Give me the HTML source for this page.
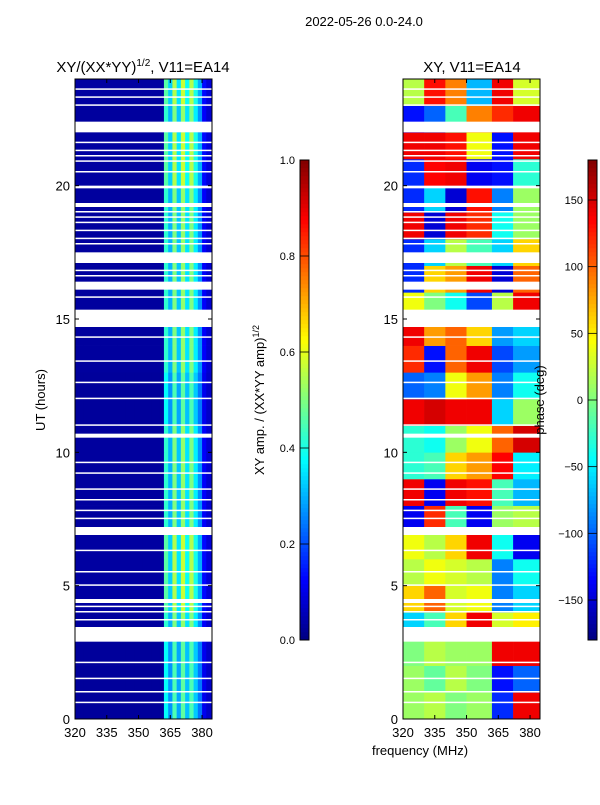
<!DOCTYPE html>
<html><head><meta charset="utf-8"><style>
body{margin:0;background:#fff;width:600px;height:800px;overflow:hidden}
svg{font-family:"Liberation Sans","DejaVu Sans",sans-serif}
</style></head><body>
<svg id="fig" width="600" height="800" xmlns="http://www.w3.org/2000/svg">
<text x="364" y="26" font-size="13" text-anchor="middle">2022-05-26 0.0-24.0</text>
<text x="143" y="72" font-size="15" text-anchor="middle">XY/(XX*YY)<tspan font-size="10" dy="-6">1/2</tspan><tspan dy="6">, V11=EA14</tspan></text>
<text x="472" y="72" font-size="15" text-anchor="middle">XY, V11=EA14</text>
<g id="left"></g>
<g id="right"></g>
<g id="axes"></g>
<text x="420" y="755" font-size="13" text-anchor="middle">frequency (MHz)</text>
<text transform="translate(45,400) rotate(-90)" font-size="13" text-anchor="middle">UT (hours)</text>
<text transform="translate(264,400) rotate(-90)" font-size="13" text-anchor="middle">XY amp. / (XX*YY amp)<tspan font-size="9" dy="-5">1/2</tspan></text>
<text transform="translate(544,400) rotate(-90)" font-size="13" text-anchor="middle">phase (deg)</text>
</svg>
<script>
// ---- data ----
const hours=[0,1,2,3,4,5,6,7,8,9,10,11,12,13,14,15,16,17,18,19,20,21,22,23];
const ampFreqs=[320,324,328,332,336,340,344,348,352,356,360,362,364,366,368,370,372,374,376,378,380,382];
const ampProfile=[0.03,0.03,0.03,0.03,0.03,0.03,0.03,0.03,0.03,0.03,0.03,0.42,0.3,0.5,0.32,0.52,0.35,0.5,0.36,0.27,0.12,0.08];
const ampRowScale=[0.9,0.9,0.9,1.0,1.1,1.1,1.1,1.0,1.0,1.0,1.0,0.9,0.9,1.0,1.0,1.0,1.0,1.0,1.0,1.0,1.1,1.1,1.0,1.1];
const phaseFreqs=[320,330,340,350,362,372];
const phase=[
[10,20,0,10,-120,140],[10,-10,20,0,-130,-100],[0,20,10,10,140,140],[-60,-20,60,140,30,50],
[60,100,30,40,-90,-60],[20,40,30,20,-90,-40],[40,20,60,140,-40,-140],[-140,120,-20,-140,10,20],
[140,-140,140,130,-20,-70],[-30,-20,60,80,135,-50],[-30,-40,10,40,100,150],[140,150,140,140,-60,10],
[-100,-90,40,80,-90,-40],[120,-130,100,140,-110,-80],[140,80,100,60,-80,-60],[40,0,-40,-110,20,140],
[-120,60,80,140,-150,100],[-120,-60,20,-20,-60,60],[140,-150,140,120,-40,10],[-120,-60,-150,130,-90,10],
[-120,135,140,-140,-130,-30],[140,140,130,40,-130,140],[-130,-100,-20,90,120,140],[20,130,90,-70,140,30]];
const gapStart=[22.0,19.9,19.2,17.1,16.1,14.7,10.55,6.9,4.35,2.9,23.3,21.3,20.9,18.6,18.0,13.4,12.0,9.6,8.6,7.8,5.5,4.0,2.1,1.5,
 23.6,23.0,21.6,21.1,20.5,19.0,18.8,18.3,17.8,16.8,16.6,15.8,14.3,12.6,11.0,9.2,8.2,7.5,6.3,5.0,4.2,3.7,1.0,0.6];
const gapEnd=[22.4,20.0,19.35,17.5,16.4,15.35,10.7,7.2,4.5,3.45,23.35,21.35,20.95,18.65,18.05,13.45,12.05,9.65,8.65,7.85,5.55,4.05,2.15,1.55,
 23.65,23.05,21.65,21.15,20.55,19.05,18.85,18.35,17.85,16.85,16.65,15.85,14.35,12.65,11.05,9.25,8.25,7.55,6.35,5.05,4.25,3.75,1.05,0.65];
const xTicks=[320,335,350,365,380];
const yTicks=[0,5,10,15,20];
const ampTicks=[0.0,0.2,0.4,0.6,0.8,1.0];
const phaseTicks=[-150,-100,-50,0,50,100,150];
// ---- scales ----
const NS="http://www.w3.org/2000/svg";
const T0=79,B0=719,F0=320,F1=384.7;
const yS=h=>B0-(h/24)*(B0-T0);
const xL=f=>75+(f-F0)/(F1-F0)*137;
const xR=f=>403+(f-F0)/(F1-F0)*137;
function jet(v){v=Math.max(0,Math.min(1,v));
 const r=Math.max(0,Math.min(1,1.5-Math.abs(4*v-3))),g=Math.max(0,Math.min(1,1.5-Math.abs(4*v-2))),b=Math.max(0,Math.min(1,1.5-Math.abs(4*v-1)));
 return `rgb(${Math.round(r*255)},${Math.round(g*255)},${Math.round(b*255)})`;}
function rect(p,x,y,w,h,fill){const r=document.createElementNS(NS,'rect');r.setAttribute('x',x);r.setAttribute('y',y);r.setAttribute('width',w);r.setAttribute('height',h);r.setAttribute('fill',fill);p.appendChild(r);return r;}
function txt(p,x,y,s,anchor){const t=document.createElementNS(NS,'text');t.setAttribute('x',x);t.setAttribute('y',y);t.setAttribute('font-size','13');t.setAttribute('text-anchor',anchor);t.textContent=s;p.appendChild(t);return t;}
function line(p,x1,y1,x2,y2,c,w){const l=document.createElementNS(NS,'line');l.setAttribute('x1',x1);l.setAttribute('y1',y1);l.setAttribute('x2',x2);l.setAttribute('y2',y2);l.setAttribute('stroke',c||'#000');l.setAttribute('stroke-width',w||1);p.appendChild(l);return l;}
const L=document.getElementById('left'),R=document.getElementById('right'),A=document.getElementById('axes');
hours.forEach((h,i)=>{ampFreqs.forEach((f,j)=>{
 const f2=j+1<ampFreqs.length?ampFreqs[j+1]:F1;
 const c=rect(L,xL(f),yS(h+1),xL(f2)-xL(f)+0.3,yS(h)-yS(h+1)+0.3,jet(ampProfile[j]*ampRowScale[i]));
 
 
});});
hours.forEach((h,i)=>{phaseFreqs.forEach((f,j)=>{
 const f2=j+1<phaseFreqs.length?phaseFreqs[j+1]:F1;
 const c=rect(R,xR(f),yS(h+1),xR(f2)-xR(f)+0.3,yS(h)-yS(h+1)+0.3,jet((phase[i][j]+180)/360));
 
 
});});
gapStart.forEach((g,i)=>{[[L,xL],[R,xR]].forEach(([p,xs])=>{
 const r=rect(p,xs(F0),yS(gapEnd[i]),137,Math.max(1.5,yS(g)-yS(gapEnd[i])),'#fff');
 
 
});});
[[75,xL],[403,xR]].forEach(([x0,xs])=>{
 const fr=rect(A,x0,T0,137,B0-T0,'none');fr.setAttribute('stroke','#000');
 
 
 xTicks.forEach(t=>{const x=xs(t);line(A,x,B0,x,B0-4);line(A,x,T0,x,T0+4);
  const l=txt(A,x,737,String(t),'middle');
  
  });
 yTicks.forEach(t=>{const y=yS(t);line(A,x0,y,x0+4,y);line(A,x0+137,y,x0+133,y);
  const l=txt(A,x0-5,y+5,String(t),'end');
  
  });
});
function cbar(x0,min,max,ticks,fmt,name){
 for(let k=0;k<120;k++){const v=k/120;rect(A,x0,640-(k+1)*4,9,4.2,jet(v+1/240));}
 const fr=rect(A,x0,160,9,480,'none');fr.setAttribute('stroke','#000');
 
 
 ticks.forEach(t=>{const y=640-(t-min)/(max-min)*480;line(A,x0,y,x0+9,y,'#000',0.8);
  const l=txt(A,x0-5,y+4,fmt(t),'end');l.setAttribute('font-size','11');
  
  });
}
cbar(300,0,1,ampTicks,t=>t.toFixed(1),'amp-colorbar');
cbar(588,-180,180,phaseTicks,t=>String(t).replace('-','\u2212'),'phase-colorbar');
</script>
</body></html>
